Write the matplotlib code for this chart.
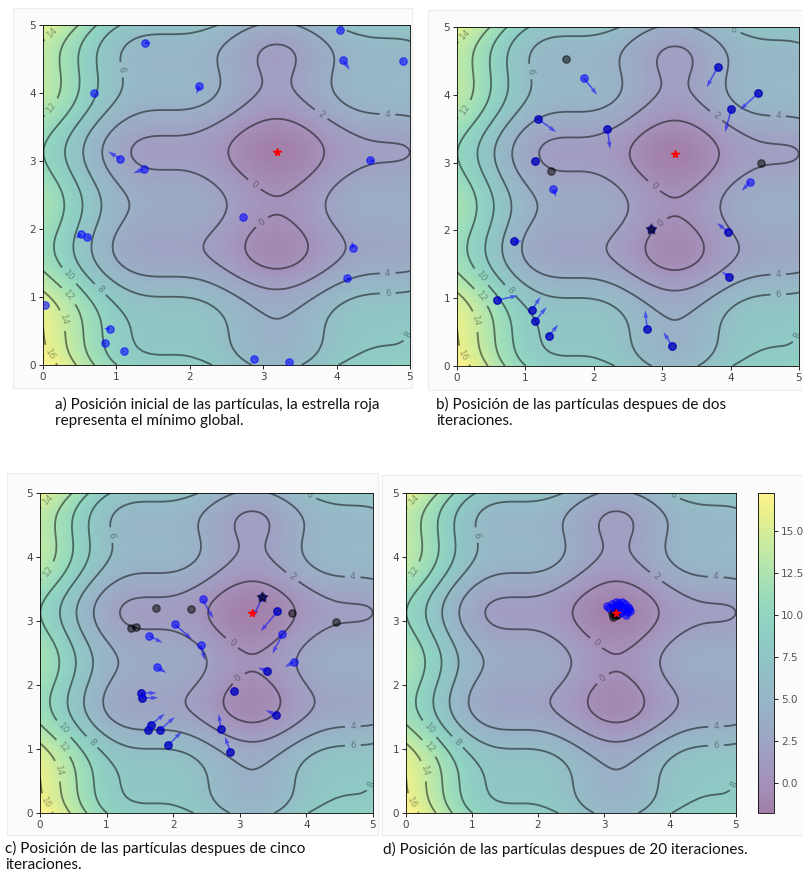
import numpy as np
import matplotlib.pyplot as plt
from matplotlib.patches import Rectangle

# objective used by the swarm
def f(x, y):
    return (x - 3.14)**2 + (y - 2.72)**2 + np.sin(3*x + 1.41) + np.sin(4*y - 1.73)

x, y = np.array(np.meshgrid(np.linspace(0, 5, 100), np.linspace(0, 5, 100)))
z = f(x, y)
x_min = x.ravel()[z.argmin()]
y_min = y.ravel()[z.argmin()]

# a) initial positions and velocities
ax_x = [1.39, 2.13, 0.69, 4.05, 4.09, 4.90, 1.05, 1.37, 4.45, 2.72, 0.52, 0.60, 4.22, 4.14, 0.03, 0.91, 0.85, 1.10, 2.87, 3.35]
ax_y = [4.73, 4.10, 4.00, 4.92, 4.48, 4.47, 3.03, 2.88, 3.01, 2.17, 1.92, 1.88, 1.72, 1.28, 0.88, 0.53, 0.32, 0.20, 0.09, 0.04]
av_x = [0.08, -0.04, 0.00, 0.00, 0.09, 0.02, -0.16, -0.14, 0.08, 0.03, -0.08, 0.05, -0.01, 0.06, 0.00, -0.08, 0.00, 0.00, 0.03, 0.00]
av_y = [0.01, -0.12, -0.05, 0.00, -0.14, 0.00, 0.11, -0.06, -0.02, 0.00, -0.06, -0.02, 0.10, -0.03, 0.00, 0.01, 0.00, 0.00, 0.00, 0.00]

# b) after two iterations
bx = [1.85, 3.81, 4.40, 4.01, 1.19, 2.20, 1.14, 1.41, 4.28, 3.96, 0.83, 3.98, 0.59, 1.10, 1.14, 1.34, 2.78, 3.14, 2.83]
by = [4.25, 4.41, 4.02, 3.79, 3.64, 3.49, 3.02, 2.61, 2.71, 1.98, 1.84, 1.32, 0.97, 0.83, 0.66, 0.44, 0.55, 0.30, 2.02]
bv_x = [0.20, -0.16, -0.26, -0.09, 0.26, 0.04, 0.00, 0.04, -0.12, -0.16, 0.12, -0.11, 0.30, 0.12, 0.17, 0.14, -0.03, -0.12, 0.00]
bv_y = [-0.25, -0.30, -0.24, -0.34, -0.19, -0.29, 0.00, -0.12, -0.13, 0.13, 0.00, 0.07, 0.07, 0.19, 0.21, 0.17, 0.27, 0.20, 0.00]
b_pbest_x = [1.60, 1.38, 4.44, 3.81, 4.40, 4.01, 1.19, 2.20, 1.14, 3.96, 0.83, 3.98, 0.59, 1.10, 1.14, 1.34, 2.78, 3.14]
b_pbest_y = [4.53, 2.88, 2.99, 4.41, 4.02, 3.79, 3.64, 3.49, 3.02, 1.98, 1.84, 1.32, 0.97, 0.83, 0.66, 0.44, 0.55, 0.30]
b_gbest = (2.83, 2.02)

# c) after five iterations
cx = [2.44, 3.565, 2.025, 1.64, 2.415, 3.64, 1.75, 3.815, 3.415, 2.915, 1.51, 1.525, 3.54, 1.66, 1.615, 1.80, 2.715, 1.925, 2.86, 3.34]
cy = [3.34, 3.15, 2.95, 2.77, 2.62, 2.79, 2.28, 2.36, 2.22, 1.90, 1.875, 1.80, 1.53, 1.38, 1.29, 1.30, 1.31, 1.06, 0.96, 3.375]
cv_x = [0.16, -0.25, 0.25, 0.20, 0.06, -0.15, 0.15, -0.14, -0.14, 0.00, 0.24, 0.25, -0.15, 0.215, 0.00, 0.225, -0.03, 0.20, -0.085, -0.14]
cv_y = [-0.30, -0.31, -0.23, -0.11, -0.23, -0.30, -0.09, -0.08, 0.05, 0.00, 0.00, 0.00, 0.08, 0.17, 0.00, 0.20, 0.24, 0.21, 0.23, -0.315]
c_pbest_x = [1.735, 1.36, 1.435, 2.26, 3.79, 4.45, 3.565, 3.415, 2.915, 1.51, 1.525, 3.54, 1.66, 1.615, 1.80, 2.715, 1.925, 2.86]
c_pbest_y = [3.21, 2.89, 2.90, 3.18, 3.13, 2.99, 3.15, 2.22, 1.90, 1.875, 1.80, 1.53, 1.38, 1.29, 1.30, 1.31, 1.06, 0.96]
c_gbest = (3.34, 3.375)

# d) after 20 iterations
dx = [3.05, 3.08, 3.12, 3.15, 3.18, 3.20, 3.22, 3.25, 3.27, 3.30, 3.32, 3.35, 3.38, 3.40, 3.28, 3.24, 3.16, 3.33, 3.36, 3.21]
dy = [3.24, 3.20, 3.26, 3.22, 3.30, 3.18, 3.28, 3.24, 3.16, 3.20, 3.26, 3.14, 3.18, 3.16, 3.30, 3.12, 3.20, 3.10, 3.22, 3.25]
d_pbest_x = [3.14, 3.16, 3.12, 3.19, 3.15]
d_pbest_y = [3.07, 3.10, 3.12, 3.09, 3.14]
d_gbest = (3.17, 3.11)

captions = [
    "a) Posición inicial de las partículas, la estrella roja\nrepresenta el mínimo global.",
    "b) Posición de las partículas despues de dos\niteraciones.",
    "c) Posición de las partículas despues de cinco\niteraciones.",
    "d) Posición de las partículas despues de 20 iteraciones.",
]

W, H = 804, 874
fig = plt.figure(figsize=(W/100, H/100), dpi=100)


def box(l, t, r, b):
    return [l/W, 1 - b/H, (r - l)/W, (b - t)/H]


# light screenshot frames behind each panel
for l, t, r, b in [(13, 8, 412, 388), (428, 10, 804, 390), (7, 473, 378, 835), (382, 475, 804, 835)]:
    fig.patches.append(Rectangle((l/W, 1 - b/H), (r - l)/W, (b - t)/H, transform=fig.transFigure,
                                 facecolor='#fbfbfb', edgecolor='#ececec', lw=0.8, zorder=-1))


def draw_base(ax):
    img = ax.imshow(z, extent=[0, 5, 0, 5], origin='lower', cmap='viridis', alpha=0.5, aspect='auto')
    contours = ax.contour(x, y, z, 10, colors='black', alpha=0.5, linewidths=1.3)
    labels = ax.clabel(contours, inline=True, fontsize=6.5, fmt="%.0f")
    for t in labels:
        t.set_alpha(0.35)
    ax.set_xlim(0, 5)
    ax.set_ylim(0, 5)
    ax.set_xticks(range(6))
    ax.set_yticks(range(6))
    ax.tick_params(labelsize=7.5, labelcolor='#444444', length=3, width=0.6, pad=2)
    for s in ax.spines.values():
        s.set_linewidth(0.6)
    return img


def draw_swarm(ax, px, py, vx=None, vy=None, pbx=None, pby=None, gbest=None):
    if pbx is not None:
        ax.scatter(pbx, pby, marker='o', s=28, color='black', alpha=0.5, zorder=3)
    ax.scatter(px, py, marker='o', s=28, color='blue', alpha=0.55, zorder=4)
    if vx is not None:
        ax.quiver(px, py, vx, vy, color='blue', alpha=0.55, width=0.0045, angles='xy',
                  scale_units='xy', scale=1, zorder=4)
    if gbest is not None:
        ax.scatter([gbest[0]], [gbest[1]], marker='*', s=60, color='black', alpha=0.6, zorder=5)
    ax.plot([x_min], [y_min], marker='*', markersize=5.5, color='red', linestyle='none', zorder=6)


ax_a = fig.add_axes(box(43, 25, 410, 365))
draw_base(ax_a)
draw_swarm(ax_a, ax_x, ax_y, av_x, av_y)

ax_b = fig.add_axes(box(457, 27, 799, 366))
draw_base(ax_b)
draw_swarm(ax_b, bx, by, bv_x, bv_y, b_pbest_x, b_pbest_y, b_gbest)

ax_c = fig.add_axes(box(40, 493, 373, 813))
draw_base(ax_c)
draw_swarm(ax_c, cx, cy, cv_x, cv_y, c_pbest_x, c_pbest_y, c_gbest)

ax_d = fig.add_axes(box(406, 493, 736, 813))
img = draw_base(ax_d)
draw_swarm(ax_d, dx, dy, None, None, d_pbest_x, d_pbest_y, d_gbest)

cax = fig.add_axes(box(758, 493, 774, 813))
cb = fig.colorbar(img, cax=cax)
cb.ax.tick_params(labelsize=7.5, labelcolor='#555555', length=3, width=0.6, pad=2)
cb.outline.set_linewidth(0.6)

cap_font = dict(family='Lato', fontsize=11, color='#111111', va='top', linespacing=1.15)
fig.text(55/W, 1 - 397/H, captions[0], **cap_font)
fig.text(436/W, 1 - 397/H, captions[1], **cap_font)
fig.text(5/W, 1 - 841/H, captions[2], **cap_font)
fig.text(383/W, 1 - 842/H, captions[3], **cap_font)

fig.savefig("out.png", dpi=100)
